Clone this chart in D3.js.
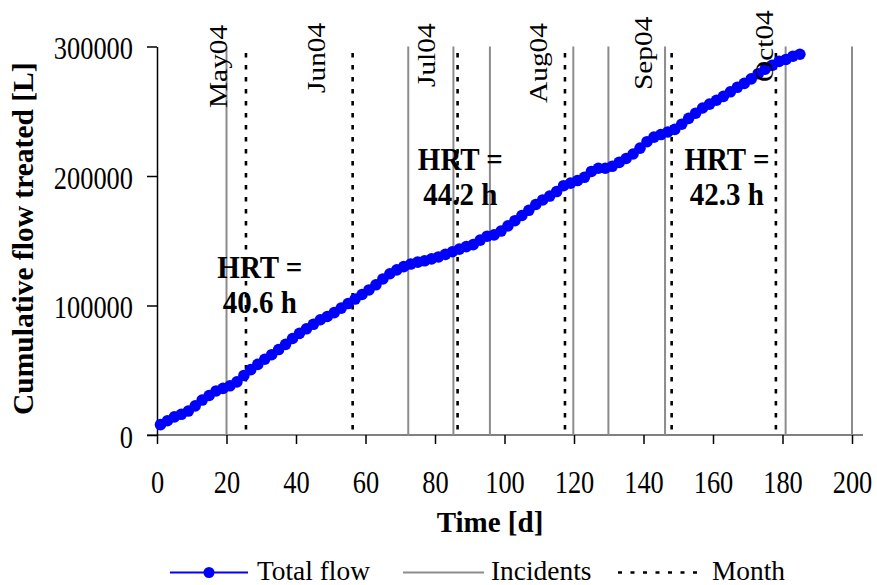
<!DOCTYPE html>
<html lang="en">
<head>
<meta charset="UTF-8">
<title>Cumulative flow treated</title>
<script src="https://d3js.org/d3.v7.min.js"></script>
<style>
  body { margin: 0; background: #fff; }
  text { font-family: "Liberation Serif", "Times New Roman", serif; fill: #000; }
</style>
</head>
<body>
<svg id="chart" width="877" height="585"></svg>
<script>
// cumulative flow, one reading every second day
var days = d3.range(1, 186, 2);
var flow = [8000, 11000, 14000, 16000, 18500, 22500, 27000, 30500, 34000, 36000,
  38000, 41000, 46000, 50500, 54500, 58500, 62000, 66000, 70000, 74500,
  78500, 82000, 85500, 89000, 91500, 94500, 98000, 101500, 105000, 108500,
  112000, 116000, 120500, 124500, 127500, 130000, 132000, 133500, 134500, 136000,
  137500, 139500, 141500, 143500, 145500, 147000, 150500, 153500, 154500, 157500,
  161500, 165500, 169500, 173500, 178000, 181500, 184500, 188000, 192500, 194500,
  196500, 199000, 203500, 206000, 206000, 207500, 210500, 213500, 217000, 221500,
  226500, 230000, 232000, 234000, 236000, 240000, 244500, 248500, 252500, 255500,
  258500, 261500, 265000, 268500, 271500, 275000, 279000, 282500, 285500, 288500,
  290000, 292500, 294000];

// incidents (solid grey) and month starts (dotted)
var incidents = [20, 72.3, 85.3, 95.8, 119.8, 129.9, 146.2, 180.9, 200];
var monthDays = [25.6, 56.3, 86.5, 117.4, 148.1, 178.1];
var monthNames = ["May04", "Jun04", "Jul04", "Aug04", "Sep04", "Oct04"];
var monthNameDay = [20.1, 48.4, 80.1, 112.2, 142.4, 177.4];
var monthNameFlow = [252500, 264100, 268700, 256400, 266400, 272600];

// HRT notes
var hrtText = ["40.6 h", "44.2 h", "42.3 h"];
var hrtDay = [29.6, 87.3, 164];
var hrtFlow = [121200, 204600, 204600];

var xTicks = d3.range(0, 201, 20);
var yTicks = [0, 100000, 200000, 300000];

var svg = d3.select("#chart");
var x = d3.scaleLinear().domain([0, 200]).range([157, 852]);
var y = d3.scaleLinear().domain([0, 300000]).range([435, 46.5]);

// x axis line is grey in the original
svg.append("line")
  .attr("x1", x(0) - 10).attr("x2", x(200) + 11)
  .attr("y1", y(0)).attr("y2", y(0))
  .attr("stroke", "#808080").attr("stroke-width", 2);

// incidents
svg.selectAll(".incident").data(incidents).enter().append("line")
  .attr("class", "incident")
  .attr("x1", d => x(d)).attr("x2", d => x(d))
  .attr("y1", y(300000)).attr("y2", y(0))
  .attr("stroke", "#8c8c8c").attr("stroke-width", 2);

// month lines
svg.selectAll(".month").data(monthDays).enter().append("line")
  .attr("class", "month")
  .attr("x1", d => x(d)).attr("x2", d => x(d))
  .attr("y1", y(295000)).attr("y2", y(0))
  .attr("stroke", "#000").attr("stroke-width", 2.6)
  .attr("stroke-dasharray", "4.5,7.5");

// axes
var xAxis = d3.axisBottom(x).tickValues(xTicks).tickSize(9).tickSizeOuter(0);
var gx = svg.append("g").attr("transform", "translate(0," + y(0) + ")").call(xAxis);
gx.select(".domain").remove();
gx.selectAll(".tick line").attr("stroke", "#000").attr("stroke-width", 1.5);
gx.selectAll(".tick text")
  .attr("font-size", 26.4).attr("font-family", null)
  .attr("dy", null).attr("y", 47.2)
  .attr("transform", "scale(1,1.23)");

var yAxis = d3.axisLeft(y).tickValues(yTicks).tickSize(10).tickSizeOuter(0)
  .tickFormat(d3.format("d"));
var gy = svg.append("g").attr("transform", "translate(" + x(0) + ",0)").call(yAxis);
gy.select(".domain").attr("stroke", "#000").attr("stroke-width", 1.5);
gy.selectAll(".tick line").attr("stroke", "#000").attr("stroke-width", 1.5);
gy.selectAll(".tick text")
  .attr("font-size", 26.4).attr("font-family", null)
  .attr("dy", null).attr("x", -24).attr("y", 9.8)
  .attr("transform", "scale(1,1.23)");

// total flow
var pts = days.map((d, i) => [d, flow[i]]);
svg.append("path").datum(pts)
  .attr("fill", "none").attr("stroke", "#0000ff").attr("stroke-width", 2)
  .attr("d", d3.line().x(d => x(d[0])).y(d => y(d[1])));
svg.selectAll(".pt").data(pts).enter().append("circle")
  .attr("class", "pt")
  .attr("cx", d => x(d[0])).attr("cy", d => y(d[1]))
  .attr("r", 5.8).attr("fill", "#0000ff");

// month names, vertical
svg.selectAll(".mname").data(monthNames).enter().append("text")
  .attr("class", "mname")
  .attr("transform", (d, i) => "translate(" + x(monthNameDay[i]) + "," + y(monthNameFlow[i]) + ") scale(1,1.13) rotate(-90)")
  .attr("font-size", 26)
  .text(d => d);

// HRT notes
hrtText.forEach(function (t, i) {
  var g = svg.append("g")
    .attr("transform", "translate(" + x(hrtDay[i]) + "," + y(hrtFlow[i]) + ") scale(1,1.1)");
  g.append("text").attr("text-anchor", "middle").attr("font-weight", "bold")
    .attr("font-size", 29).attr("y", 0).text("HRT =");
  g.append("text").attr("text-anchor", "middle").attr("font-weight", "bold")
    .attr("font-size", 29).attr("y", 32).text(t);
});

// axis titles
svg.append("text")
  .attr("transform", "translate(33,415) rotate(-90)")
  .attr("font-size", 29.5).attr("font-weight", "bold")
  .text("Cumulative flow treated [L]");
svg.append("text")
  .attr("x", 490).attr("y", 532)
  .attr("text-anchor", "middle")
  .attr("font-size", 29).attr("font-weight", "bold")
  .text("Time [d]");

// legend
var lg = svg.append("g").attr("transform", "translate(0,572.5)");
lg.append("line").attr("x1", 170).attr("x2", 248).attr("stroke", "#0000ff").attr("stroke-width", 2);
lg.append("circle").attr("cx", 209).attr("r", 5.5).attr("fill", "#0000ff");
lg.append("text").attr("x", 257).attr("y", 7.5).attr("font-size", 27.4).text("Total flow");
lg.append("line").attr("x1", 403).attr("x2", 484).attr("stroke", "#8c8c8c").attr("stroke-width", 2);
lg.append("text").attr("x", 491).attr("y", 7.5).attr("font-size", 27.4).text("Incidents");
lg.append("line").attr("x1", 618).attr("x2", 700).attr("stroke", "#000").attr("stroke-width", 2.6)
  .attr("stroke-dasharray", "4,8.5");
lg.append("text").attr("x", 712).attr("y", 7.5).attr("font-size", 27.4).text("Month");
</script>
</body>
</html>
